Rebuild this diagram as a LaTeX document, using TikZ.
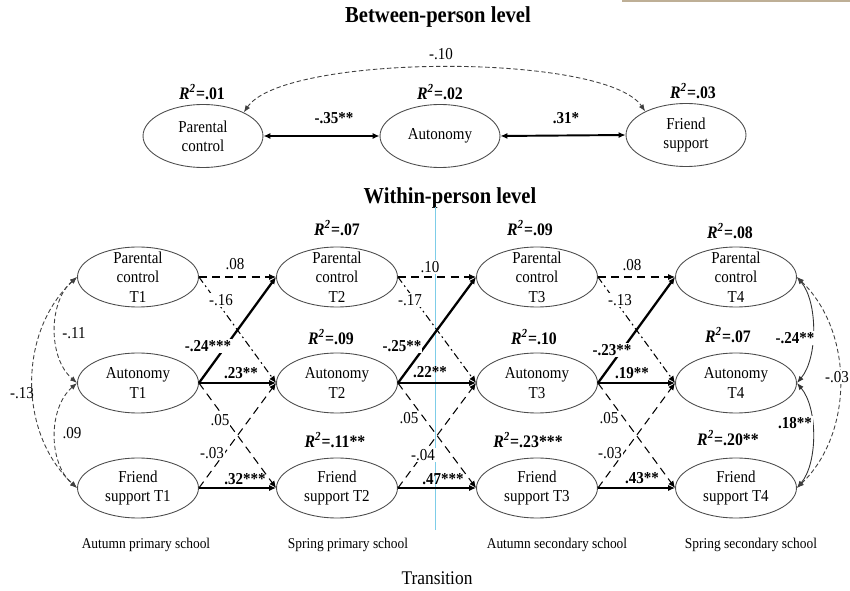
\documentclass[tikz,border=0pt]{standalone}
\usepackage{fontspec}
\setmainfont{Liberation Serif}[FakeStretch=0.9]
\usetikzlibrary{shapes.geometric,arrows.meta}

\definecolor{lineblue}{RGB}{125,205,232}
\definecolor{tanrule}{RGB}{190,175,150}
\newcommand{\Rsq}[1]{\textit{R}\textsuperscript{\textit{2}}=#1}

\tikzset{
    var/.style={draw=black!70, line width=0.5pt, ellipse, minimum width=2.42cm,
        minimum height=1.2cm, inner sep=0pt},
    bvar/.style={var, minimum width=2.4cm, minimum height=1.26cm},
    vtext/.style={label={[align=center, font=\fontsize{9.5}{11}\selectfont]center:#1}},
    title/.style={font=\fontsize{13}{15}\selectfont\bfseries},
    rsq/.style={font=\fontsize{10}{12}\selectfont\bfseries},
    coef/.style={font=\fontsize{9.5}{11}\selectfont, fill=white, inner sep=0.5pt},
    bcoef/.style={coef, font=\fontsize{9.5}{11}\selectfont\bfseries},
    wave/.style={font=\fontsize{8.5}{10}\selectfont},
    tip/.style={-{Latex[length=4pt,width=3.5pt]}},
    sol/.style={tip, line width=0.8pt},
    thk/.style={tip, line width=1.3pt},
    dsh/.style={tip, line width=0.6pt, dash pattern=on 4.5pt off 3pt},
    dshdot/.style={tip, line width=0.6pt, dash pattern=on 4pt off 2pt on 1pt off 2pt},
    cov/.style={{Latex[length=4pt,width=3pt]}-{Latex[length=4pt,width=3pt]},
        line width=0.5pt, black!75, dash pattern=on 2.5pt off 1.5pt},
    covs/.style={{Latex[length=4pt,width=3pt]}-{Latex[length=4pt,width=3pt]},
        line width=0.5pt, black!80},
    bboth/.style={{Latex[length=4pt,width=3.5pt]}-{Latex[length=4pt,width=3.5pt]},
        line width=1.1pt}
}

\begin{document}
\begin{tikzpicture}[x=0.02cm, y=-0.02cm]
    \useasboundingbox (0,0) rectangle (850,591);
    \draw[tanrule, line width=1.2pt] (622,1) -- (850,1);

    % between-person level
    \node[title] (btitle) at (438,17) {Between-person level};
    \node[bvar, vtext={Parental\\control}] (bpc) at (203,136) {};
    \node[bvar, vtext={Autonomy}] (bau) at (440,136) {};
    \node[bvar, vtext={Friend\\support}] (bfs) at (686,135) {};
    \node[rsq] (rbpc) at (202,92) {\Rsq{.01}};
    \node[rsq] (rbau) at (440,92) {\Rsq{.02}};
    \node[rsq] (rbfs) at (693,91) {\Rsq{.03}};

    \draw[bboth] (bpc.east) -- (bau.west);
    \draw[bboth] (bau.east) -- (bfs.west);
    \draw[cov] (bpc.30) .. controls +(40,-59) and +(-40,-59) .. (bfs.150);
    \node[bcoef, fill=none] (kbpa) at (334,118) {-.35**};
    \node[bcoef, fill=none] (kbaf) at (566,118) {.31*};
    \node[coef, fill=none] (kbpf) at (441,54) {-.10};

    % within-person level
    \node[title] (wtitle) at (450,198) {Within-person level};
    \draw[lineblue, line width=0.5pt] (435,207) -- (435,530);

    \node[var, vtext={Parental\\control\\T1}] (pc1) at (138,277) {};
    \node[var, vtext={Autonomy\\T1}] (au1) at (138,383) {};
    \node[var, vtext={Friend\\support T1}] (fs1) at (138,488) {};
    \node[var, vtext={Parental\\control\\T2}] (pc2) at (337,277) {};
    \node[var, vtext={Autonomy\\T2}] (au2) at (337,383) {};
    \node[var, vtext={Friend\\support T2}] (fs2) at (337,488) {};
    \node[var, vtext={Parental\\control\\T3}] (pc3) at (537,277) {};
    \node[var, vtext={Autonomy\\T3}] (au3) at (537,383) {};
    \node[var, vtext={Friend\\support T3}] (fs3) at (537,488) {};
    \node[var, vtext={Parental\\control\\T4}] (pc4) at (736,277) {};
    \node[var, vtext={Autonomy\\T4}] (au4) at (736,383) {};
    \node[var, vtext={Friend\\support T4}] (fs4) at (736,488) {};

    \node[rsq] (rpc2) at (337,228) {\Rsq{.07}};
    \node[rsq] (rau2) at (331,337) {\Rsq{.09}};
    \node[rsq] (rfs2) at (335,440) {\Rsq{.11**}};
    \node[rsq] (rpc3) at (530,228) {\Rsq{.09}};
    \node[rsq] (rau3) at (534,337) {\Rsq{.10}};
    \node[rsq] (rfs3) at (528,440) {\Rsq{.23***}};
    \node[rsq] (rpc4) at (730,231) {\Rsq{.08}};
    \node[rsq] (rau4) at (728,335) {\Rsq{.07}};
    \node[rsq] (rfs4) at (728,438) {\Rsq{.20**}};

    % T1 -> T2
    \draw[dsh] (pc1.east) -- (pc2.west);
    \draw[dshdot] (pc1.east) -- (au2.west);
    \draw[thk] (au1.east) -- (pc2.west);
    \draw[sol] (au1.east) -- (au2.west);
    \draw[dsh] (au1.east) -- (fs2.west);
    \draw[dsh] (fs1.east) -- (au2.west);
    \draw[sol] (fs1.east) -- (fs2.west);
    % T2 -> T3
    \draw[dsh] (pc2.east) -- (pc3.west);
    \draw[dshdot] (pc2.east) -- (au3.west);
    \draw[thk] (au2.east) -- (pc3.west);
    \draw[sol] (au2.east) -- (au3.west);
    \draw[dsh] (au2.east) -- (fs3.west);
    \draw[dsh] (fs2.east) -- (au3.west);
    \draw[sol] (fs2.east) -- (fs3.west);
    % T3 -> T4
    \draw[dsh] (pc3.east) -- (pc4.west);
    \draw[dshdot] (pc3.east) -- (au4.west);
    \draw[thk] (au3.east) -- (pc4.west);
    \draw[sol] (au3.east) -- (au4.west);
    \draw[dsh] (au3.east) -- (fs4.west);
    \draw[dsh] (fs3.east) -- (au4.west);
    \draw[sol] (fs3.east) -- (fs4.west);

    % residual covariances
    \draw[cov] (pc1.west) .. controls +(-29,25) and +(-29,-25) .. (au1.west);
    \draw[cov] (au1.west) .. controls +(-29,25) and +(-29,-25) .. (fs1.west);
    \draw[cov] (pc1.west) .. controls +(-59,55) and +(-59,-55) .. (fs1.west);
    \draw[covs] (pc4.east) .. controls +(21,25) and +(21,-25) .. (au4.east);
    \draw[covs] (au4.east) .. controls +(21,25) and +(21,-25) .. (fs4.east);
    \draw[cov] (pc4.east) .. controls +(57,55) and +(57,-55) .. (fs4.east);

    \node[coef] (k12a) at (235,264) {.08};
    \node[coef] (k12b) at (221,300) {-.16};
    \node[bcoef] (k12c) at (208,346) {-.24***};
    \node[bcoef, fill=none] (k12d) at (241,373) {.23**};
    \node[coef] (k12e) at (220,420) {.05};
    \node[coef] (k12f) at (212,453) {-.03};
    \node[bcoef, fill=none] (k12g) at (245,479) {.32***};

    \node[coef] (k23a) at (430,267) {.10};
    \node[coef] (k23b) at (410,300) {-.17};
    \node[bcoef] (k23c) at (402,346) {-.25**};
    \node[bcoef, fill=none] (k23d) at (430,372) {.22**};
    \node[coef] (k23e) at (409,418) {.05};
    \node[coef] (k23f) at (423,455) {-.04};
    \node[bcoef, fill=none] (k23g) at (443,479) {.47***};

    \node[coef] (k34a) at (632,265) {.08};
    \node[coef] (k34b) at (620,300) {-.13};
    \node[bcoef] (k34c) at (612,350) {-.23**};
    \node[bcoef, fill=none] (k34d) at (632,373) {.19**};
    \node[coef] (k34e) at (609,418) {.05};
    \node[coef] (k34f) at (610,453) {-.03};
    \node[bcoef, fill=none] (k34g) at (642,478) {.43**};

    \node[coef, fill=none] (kc1a) at (74,333) {-.11};
    \node[coef, fill=none] (kc1b) at (72,433) {.09};
    \node[coef, fill=none] (kc1c) at (22,393) {-.13};
    \node[bcoef] (kc4a) at (795,338) {-.24**};
    \node[bcoef] (kc4b) at (795,423) {.18**};
    \node[coef] (kc4c) at (837,377) {-.03};

    % waves
    \node[wave] (w1) at (146,545) {Autumn primary school};
    \node[wave] (w2) at (348,545) {Spring primary school};
    \node[wave] (w3) at (557,545) {Autumn secondary school};
    \node[wave] (w4) at (751,545) {Spring secondary school};
    \node[font=\fontsize{11}{13}\selectfont] (trans) at (437,578) {Transition};
\end{tikzpicture}
\end{document}
